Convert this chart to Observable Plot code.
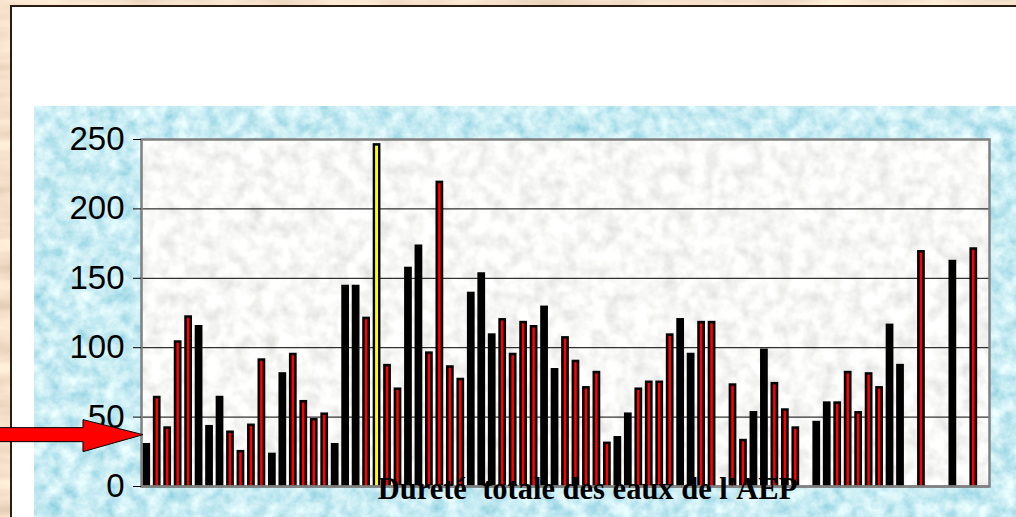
<!DOCTYPE html>
<html>
<head>
<meta charset="utf-8">
<script src="https://cdn.jsdelivr.net/npm/d3@7"></script>
<script src="https://cdn.jsdelivr.net/npm/@observablehq/plot@0.6"></script>
<style>
  html, body { margin: 0; padding: 0; }
  body { width: 1016px; height: 517px; overflow: hidden; position: relative; background: #e8c29a; }
  #wood { position: absolute; left: 0; top: 0; width: 1016px; height: 517px; }
  #panel { position: absolute; left: 10px; top: 5px; width: 1040px; height: 540px; background: #ffffff;
           border-top: 2px solid #2b1d12; border-left: 2px solid #2b1d12; }
  #chart { position: absolute; left: 34px; top: 106px; width: 982px; height: 411px; }
</style>
</head>
<body>
<div id="wood"></div>
<div id="panel"></div>
<div id="chart"></div>
<script>
// ---- data ----
const hardness = [31,65,43,105,123,116,44,65,40,26,
                  45,92,24,82,96,62,49,53,31,145,
                  145,122,247,88,71,158,174,97,220,87,
                  78,140,154,110,121,96,119,116,130,85,
                  108,91,72,83,32,36,53,71,76,76,
                  110,121,96,119,119,0,74,34,54,99,
                  75,56,43,0,47,61,61,83,54,82,
                  72,117,88,0,170,0,0,163,0,172,
                  0];
const barKind = ["k","r","r","r","r","k","k","k","r","r",
                 "r","r","k","k","r","r","r","r","k","k",
                 "k","r","y","r","r","k","k","r","r","r",
                 "r","k","k","k","r","r","r","r","k","k",
                 "r","r","r","r","r","k","k","r","r","r",
                 "r","k","k","r","r","","r","r","k","k",
                 "r","r","r","","k","k","r","r","r","r",
                 "r","k","k","","r","","","k","","r",
                 ""];
const yTicks = [0, 50, 100, 150, 200, 250];
const title = "Dureté  totale des eaux de l'AEP";
const arrowValue = 37;

const sites = hardness.map((_, i) => i + 1);
const rows = hardness.map((v, i) => ({site: sites[i], value: v, kind: barKind[i]}));

// ---- textures ----
function noiseSVG(w, h, freq, matrix, id, oct) {
  return `<svg xmlns="http://www.w3.org/2000/svg" width="${w}" height="${h}">` +
    `<filter id="${id}" x="0" y="0" width="100%" height="100%">` +
    `<feTurbulence type="fractalNoise" baseFrequency="${freq}" numOctaves="${oct}" seed="7" stitchTiles="stitch"/>` +
    `<feColorMatrix type="matrix" values="${matrix}"/></filter>` +
    `<rect width="100%" height="100%" filter="url(#${id})"/></svg>`;
}
const blueTex = noiseSVG(982, 411, "0.07",
  "0.8 0 0 0 0.18  0.5 0 0 0 0.59  0.35 0 0 0 0.72  0 0 0 0 1", "b", 4);
document.getElementById("chart").style.background =
  `url("data:image/svg+xml,${encodeURIComponent(blueTex)}")`;
const woodTex = noiseSVG(1016, 517, "0.01 0.05",
  "0.5 0 0 0 0.66  0.5 0 0 0 0.50  0.45 0 0 0 0.36  0 0 0 0 1", "w", 3);
document.getElementById("wood").style.background =
  `url("data:image/svg+xml,${encodeURIComponent(woodTex)}")`;

// ---- chart ----
const arrowMark = (index, scales, values, dims) => {
  const y = scales.y(arrowValue);
  const tip = dims.marginLeft + 2;
  const base = tip - 60;
  const left = -40;
  const g = document.createElementNS("http://www.w3.org/2000/svg", "polygon");
  g.setAttribute("points", [
    [left, y - 7], [base, y - 7], [base, y - 15], [tip, y], [base, y + 17], [base, y + 7], [left, y + 7]
  ].map(p => p.join(",")).join(" "));
  g.setAttribute("fill", "#ff0000");
  g.setAttribute("stroke", "#000");
  g.setAttribute("stroke-width", "1");
  return g;
};

const chart = Plot.plot({
  width: 982,
  height: 411,
  marginLeft: 107,
  marginRight: 27,
  marginTop: 33,
  marginBottom: 31,
  style: {background: "transparent", overflow: "visible"},
  x: {type: "band", domain: sites, paddingInner: 0.26, paddingOuter: 0.13, axis: null},
  y: {domain: [0, 250], axis: null},
  marks: [
    Plot.frame({fill: "url(#plotTex)"}),
    Plot.gridY(yTicks.slice(1, -1), {stroke: "#000", strokeOpacity: 1, strokeWidth: 1}),
    Plot.barY(rows.filter(d => d.kind), {x: "site", y: "value", fill: "#000"}),
    Plot.barY(rows.filter(d => d.kind === "r"), {x: "site", y: "value", fill: "#ff0000",
      insetLeft: 2.6, insetRight: 2.6, insetTop: 2.5}),
    Plot.barY(rows.filter(d => d.kind === "y"), {x: "site", y: "value", fill: "#ffff00",
      insetLeft: 2.4, insetRight: 2.4, insetTop: 2.5}),
    Plot.ruleY([0], {stroke: "#505050", strokeWidth: 2}),
    Plot.frame({stroke: "#808080", strokeWidth: 2.5}),
    Plot.axisY(yTicks, {label: null, tickSize: 8, tickPadding: 9, fontSize: 33,
      fontFamily: "Liberation Sans, Arial, sans-serif", fill: "#000", stroke: "#000"}),
    Plot.text([title], {frameAnchor: "bottom", lineAnchor: "middle", dx: 22, dy: 3, fontSize: 30.5,
      fontWeight: "bold", fontFamily: "Liberation Serif, Times New Roman, serif", fill: "#000"}),
    arrowMark
  ]
});

chart.insertAdjacentHTML("afterbegin",
  `<defs><filter id="grayGrain" x="0" y="0" width="100%" height="100%">
     <feTurbulence type="fractalNoise" baseFrequency="0.07" numOctaves="3" seed="3"/>
     <feColorMatrix type="matrix" values="0.45 0 0 0 0.71  0.45 0 0 0 0.71  0.45 0 0 0 0.70  0 0 0 0 1"/>
   </filter>
   <pattern id="plotTex" patternUnits="userSpaceOnUse" x="0" y="0" width="982" height="411">
     <rect width="982" height="411" filter="url(#grayGrain)"/>
   </pattern></defs>`);

document.getElementById("chart").appendChild(chart);
</script>
</body>
</html>
